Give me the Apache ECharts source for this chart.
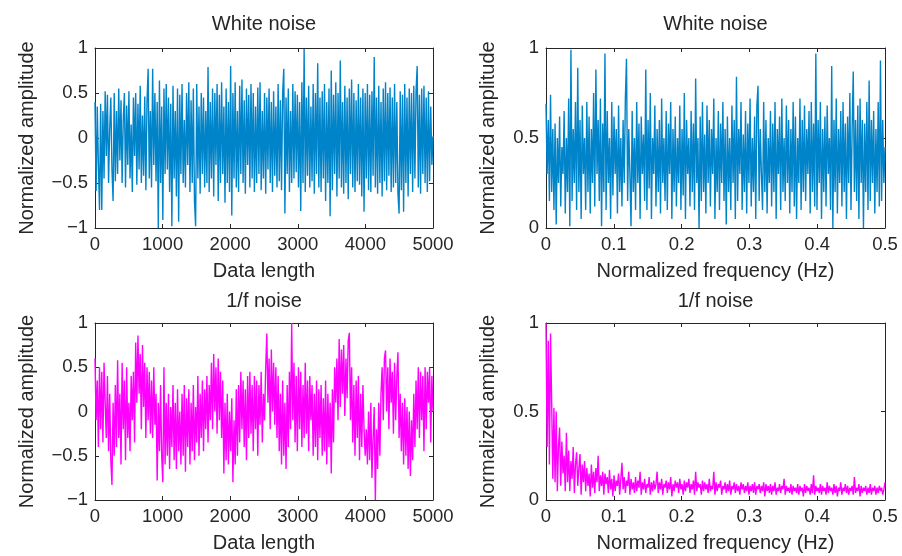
<!DOCTYPE html>
<html>
<head>
<meta charset="utf-8">
<script src="https://cdn.jsdelivr.net/npm/echarts@6/dist/echarts.min.js"></script>
<style>
html,body{margin:0;padding:0;background:#fff;}
#c{width:902px;height:556px;}
</style>
</head>
<body>
<div id="c"></div>
<script>
// Panel titles and axis names
const titles = ['White noise', 'White noise', '1/f noise', '1/f noise'];
const xNames = ['Data length', 'Normalized frequency (Hz)', 'Data length', 'Normalized frequency (Hz)'];
const yName = 'Normalized amplitude';
// Axis ranges / tick steps
const timeAxis = {min: 0, max: 5000, interval: 1000};
const freqAxis = {min: 0, max: 0.5, interval: 0.1};
const symAmp = {min: -1, max: 1, interval: 0.5};
const posAmp = {min: 0, max: 1, interval: 0.5};

// White noise, time domain (evenly spaced over 0..5000)
const whiteTime = [
0.4,-0.59,0.35,-0.3,-0.8,0.38,-0.8,0.3,-0.45,0.52,-0.2,0.48,-0.5,0.1,0.45,-0.35,-0.7,0.5,-0.48,0.3,
-0.4,0.55,-0.25,0.42,-0.5,0.2,0.5,-0.55,0.36,-0.3,0.52,-0.45,0.15,-0.6,0.45,-0.2,0.5,-0.52,0.38,-0.35,
0.58,-0.5,0.25,-0.42,0.46,-0.58,0.4,0.77,-0.45,0.3,-0.55,0.77,-0.3,0.5,-0.48,0.4,-1.0,0.64,-0.5,0.35,
-0.91,0.55,-0.4,0.6,-0.35,0.45,-0.6,0.38,-0.98,0.58,-0.45,0.3,-0.65,0.55,-0.93,0.48,-0.4,0.6,-0.5,0.2,
-0.55,0.5,-0.3,0.62,-0.6,0.42,-0.5,0.55,-0.7,-0.98,0.6,-0.45,0.35,-0.62,0.5,-0.4,0.45,-0.55,0.3,-0.5,
0.79,-0.6,0.4,-0.45,0.55,-0.65,0.5,-0.3,0.6,-0.7,0.48,-0.5,0.62,-0.4,0.35,-0.72,0.55,-0.5,0.4,-0.6,
0.8,-0.86,0.5,-0.45,0.62,-0.55,0.3,-0.6,0.58,-0.4,0.65,-0.5,0.42,-0.62,0.55,-0.3,0.48,-0.55,0.6,-0.45,
0.5,-0.6,0.35,-0.5,0.56,-0.4,0.62,-0.58,0.3,-0.45,0.5,-0.62,0.45,-0.35,0.55,-0.5,0.4,-0.6,0.52,-0.42,
0.35,-0.55,0.6,-0.48,0.42,-0.58,0.5,0.77,-0.84,0.45,-0.4,0.55,-0.6,0.3,-0.5,0.6,-0.45,0.52,-0.38,0.48,
-0.55,0.4,-0.81,0.62,-0.5,0.99,-0.6,0.45,-0.42,0.58,-0.55,0.35,-0.48,0.6,-0.62,0.5,-0.4,0.83,-0.55,0.45,
-0.6,0.52,-0.45,0.6,-0.7,0.4,-0.5,0.55,-0.87,0.75,-0.58,0.48,-0.4,0.62,-0.65,0.5,-0.45,0.86,-0.55,0.4,
-0.62,0.58,-0.5,0.45,-0.68,0.55,-0.4,0.65,-0.55,0.5,-0.6,0.42,-0.48,0.6,-0.52,0.45,-0.65,0.55,-0.82,0.5,
-0.45,0.6,-0.58,0.48,-0.6,0.52,-0.42,0.9,-0.55,0.45,-0.62,0.58,-0.5,0.4,-0.65,0.55,-0.48,0.62,-0.58,0.5,
-0.42,0.56,-0.6,0.45,-0.55,0.6,-0.5,0.4,-0.62,-0.84,0.52,-0.58,0.48,-0.82,0.6,-0.5,0.45,-0.65,0.55,-0.4,
0.5,-0.6,0.58,-0.45,0.52,0.8,-0.55,0.48,-0.62,0.55,-0.4,0.58,-0.5,0.45,-0.6,0.52,-0.48,0.35,-0.3,0.02
];

// White noise, spectrum (evenly spaced over 0..0.5 Hz)
const whiteSpec = [
0.69,0.3,0.6,0.15,0.74,0.2,0.55,0.1,0.58,0.02,0.5,0.25,0.62,0.12,0.45,0.3,0.65,0.08,0.5,0.2,
0.72,0.01,0.99,0.15,0.55,0.25,0.7,0.1,0.89,0.2,0.6,0.05,0.68,0.3,0.5,0.1,0.7,0.2,0.62,0.08,
0.55,0.25,0.75,0.12,0.88,0.3,0.6,0.15,0.72,0.01,0.58,0.2,0.97,0.1,0.65,0.25,0.5,0.05,0.7,0.18,
0.62,0.3,0.55,0.08,0.68,0.2,0.5,0.12,0.6,0.25,0.72,0.94,0.15,0.55,0.3,0.01,0.65,0.2,0.5,0.1,
0.7,0.25,0.58,0.05,0.62,0.3,0.52,0.15,0.88,0.1,0.6,0.22,0.75,0.05,0.5,0.3,0.68,0.12,0.55,0.2,
0.6,0.08,0.72,0.25,0.5,0.15,0.65,0.1,0.58,0.3,0.7,0.05,0.55,0.2,0.62,0.12,0.5,0.25,0.68,0.1,
0.55,0.18,0.75,0.05,0.6,0.3,0.5,0.12,0.65,0.2,0.58,0.1,0.83,0.25,0.5,0.0,0.62,0.15,0.7,0.2,
0.52,0.08,0.68,0.25,0.6,0.12,0.55,0.3,0.72,0.05,0.5,0.2,0.65,0.1,0.58,0.25,0.7,0.15,0.55,0.02,
0.62,0.2,0.5,0.1,0.68,0.25,0.6,0.05,0.84,0.15,0.55,0.3,0.7,0.1,0.52,0.2,0.65,0.08,0.58,0.25,
0.72,0.12,0.5,0.2,0.62,0.05,0.68,0.79,0.15,0.55,0.3,0.1,0.7,0.2,0.6,0.08,0.5,0.25,0.65,0.12,
0.58,0.2,0.7,0.05,0.55,0.3,0.62,0.1,0.72,0.2,0.5,0.15,0.68,0.25,0.6,0.08,0.55,0.2,0.7,0.12,
0.62,0.05,0.5,0.25,0.72,0.1,0.6,0.2,0.68,0.15,0.55,0.3,0.65,0.08,0.7,0.2,0.58,0.12,0.97,0.1,
0.6,0.25,0.7,0.05,0.55,0.2,0.62,0.12,0.68,0.3,0.5,0.1,0.9,0.0,0.6,0.2,0.72,0.08,0.55,0.25,
0.65,0.12,0.7,0.2,0.58,0.05,0.62,0.25,0.75,0.1,0.55,0.87,0.2,0.6,0.15,0.68,0.05,0.72,0.25,0.6,
0.0,0.58,0.2,0.7,0.1,0.82,0.15,0.6,0.25,0.65,0.08,0.55,0.2,0.7,0.12,0.93,0.15,0.6,0.25,0.45
];

// 1/f noise, time domain (evenly spaced over 0..5000)
const pinkTime = [
0.6,-0.1,0.35,-0.4,0.5,-0.2,0.45,-0.35,0.55,0.1,-0.3,0.4,-0.45,0.2,-0.55,-0.83,0.1,-0.5,0.3,-0.4,
0.58,-0.3,0.2,-0.6,0.55,-0.2,0.35,-0.55,0.5,-0.3,0.1,-0.45,0.4,-0.1,0.45,-0.35,0.78,0.1,0.86,0.2,
0.65,-0.2,0.75,0.05,0.55,-0.3,0.5,-0.1,0.45,-0.25,0.35,-0.3,0.5,-0.15,0.2,-0.78,0.1,-0.45,0.3,-0.5,
-0.8,0.5,-0.6,0.1,-0.5,0.2,-0.65,0.05,-0.4,0.3,-0.55,0.1,-0.65,0.25,-0.45,0.0,-0.6,0.2,-0.5,0.3,
-0.68,0.15,-0.4,0.25,-0.6,0.1,-0.45,0.3,-0.55,0.05,-0.35,0.4,-0.5,0.2,-0.3,0.35,-0.45,0.25,-0.2,0.4,
-0.35,0.3,-0.1,0.55,-0.2,0.65,0.0,0.5,-0.25,0.6,-0.1,0.45,-0.3,0.35,-0.7,0.1,-0.55,0.2,-0.6,0.0,
-0.45,0.15,-0.8,-0.1,-0.6,0.25,-0.5,0.3,-0.35,0.45,-0.2,0.35,-0.4,0.25,-0.55,0.4,-0.3,0.45,-0.25,0.3,
-0.45,0.4,-0.2,0.35,-0.5,0.3,-0.15,0.45,-0.35,0.2,-0.1,0.5,0.88,0.1,0.6,-0.2,0.7,0.0,0.55,-0.15,
0.5,-0.3,0.4,-0.45,0.2,-0.6,0.35,-0.5,0.1,-0.65,0.3,-0.4,0.45,-0.2,1.0,-0.1,0.55,-0.35,0.4,-0.45,
0.5,-0.2,0.45,-0.4,0.3,-0.3,0.55,-0.25,0.35,-0.45,0.4,-0.1,0.3,-0.5,0.2,-0.4,0.35,-0.55,0.25,-0.3,
0.3,-0.5,0.15,-0.45,0.35,-0.6,0.2,-0.4,0.1,-0.7,0.25,-0.35,0.5,0.1,0.6,-0.1,0.82,0.05,0.7,0.2,
0.75,-0.05,0.6,0.15,0.8,0.89,-0.1,0.5,-0.35,0.3,-0.5,0.35,-0.3,0.4,-0.55,0.2,-0.4,0.3,-0.2,-0.5,
-0.2,-0.6,0.0,-0.55,0.1,-0.75,-0.3,0.05,-1.0,-0.2,-0.65,0.1,-0.5,0.2,0.5,-0.1,0.6,0.69,0.0,0.5,
-0.2,0.6,0.1,0.45,-0.25,0.55,-0.1,0.4,0.67,-0.3,0.2,-0.45,0.1,-0.6,0.15,-0.5,0.05,-0.65,0.0,-0.73,
-0.1,-0.55,0.2,-0.4,0.35,-0.2,0.5,-0.3,0.45,-0.1,0.4,-0.45,0.5,-0.2,0.45,0.1,0.5,-0.35,0.4,0.0
];

// 1/f noise, spectrum (evenly spaced over 0..0.5 Hz)
const pinkSpec = [
1.0,0.3,0.9,0.2,0.94,0.55,0.12,0.52,0.1,0.5,0.05,0.3,0.41,0.08,0.33,0.15,0.25,0.05,0.38,0.1,
0.28,0.05,0.22,0.12,0.3,0.04,0.2,0.27,0.08,0.18,0.26,0.03,0.2,0.1,0.22,0.05,0.18,0.08,0.15,0.02,
0.2,0.07,0.16,0.04,0.18,0.1,0.25,0.05,0.14,0.08,0.16,0.03,0.15,0.09,0.13,0.04,0.17,0.06,0.12,0.02,
0.14,0.05,0.11,0.08,0.15,0.03,0.12,0.21,0.06,0.13,0.04,0.11,0.08,0.16,0.03,0.12,0.06,0.1,0.04,0.13,
0.05,0.11,0.07,0.16,0.03,0.1,0.06,0.12,0.04,0.09,0.07,0.13,0.03,0.1,0.05,0.11,0.06,0.09,0.16,0.04,
0.1,0.06,0.12,0.03,0.09,0.07,0.11,0.04,0.1,0.06,0.13,0.02,0.09,0.05,0.11,0.07,0.1,0.04,0.12,0.06,
0.09,0.03,0.11,0.05,0.1,0.07,0.12,0.04,0.09,0.06,0.11,0.03,0.16,0.05,0.1,0.07,0.09,0.03,0.11,0.05,
0.1,0.06,0.09,0.04,0.12,0.05,0.08,0.06,0.16,0.03,0.1,0.05,0.09,0.07,0.11,0.03,0.08,0.06,0.1,0.04,
0.09,0.05,0.11,0.03,0.08,0.06,0.1,0.04,0.09,0.05,0.08,0.03,0.1,0.06,0.09,0.04,0.08,0.05,0.1,0.03,
0.08,0.05,0.09,0.04,0.1,0.03,0.08,0.06,0.09,0.04,0.08,0.05,0.1,0.02,0.09,0.05,0.08,0.04,0.09,0.03,
0.08,0.05,0.1,0.03,0.07,0.05,0.09,0.04,0.08,0.06,0.12,0.03,0.08,0.05,0.07,0.04,0.09,0.03,0.08,0.05,
0.07,0.04,0.09,0.03,0.08,0.05,0.07,0.02,0.09,0.04,0.08,0.05,0.07,0.03,0.09,0.04,0.14,0.03,0.08,0.05,
0.07,0.04,0.09,0.03,0.08,0.05,0.07,0.03,0.1,0.04,0.08,0.05,0.07,0.03,0.09,0.04,0.08,0.02,0.07,0.05,
0.1,0.03,0.07,0.05,0.09,0.04,0.08,0.03,0.07,0.05,0.08,0.03,0.13,0.04,0.07,0.05,0.09,0.02,0.08,0.04,
0.07,0.05,0.08,0.03,0.07,0.04,0.09,0.03,0.07,0.05,0.08,0.03,0.07,0.04,0.08,0.05,0.07,0.03,0.06,0.1
];

const BLUE = '#0084C9', MAGENTA = '#FF00FF', INK = '#262626';
const FONT = '"Liberation Sans", Arial, sans-serif';
const TICK_FS = 18.5, NAME_FS = 20;

const grids = [
  {left: 95, top: 48, width: 338, height: 180},
  {left: 546, top: 48, width: 339, height: 180},
  {left: 95, top: 323, width: 338, height: 177},
  {left: 546, top: 323, width: 339, height: 177}
];
const xRanges = [timeAxis, freqAxis, timeAxis, freqAxis];
const yRanges = [symAmp, posAmp, symAmp, posAmp];
const yNameGaps = [58, 48, 58, 48];
const seriesData = [whiteTime, whiteSpec, pinkTime, pinkSpec];
const colors = [BLUE, BLUE, MAGENTA, MAGENTA];

const fmt = v => String(v).replace('-', '\u2212');
const line = {show: true, onZero: false, lineStyle: {color: INK, width: 1}};
const tick = {show: true, inside: true, length: 4, lineStyle: {color: INK, width: 1}};

const xAxis = [], yAxis = [], series = [], title = [];
grids.forEach((g, i) => {
  const xr = xRanges[i], yr = yRanges[i];
  xAxis.push({
    type: 'value', gridIndex: i, position: 'bottom', min: xr.min, max: xr.max, interval: xr.interval,
    axisLine: line, axisTick: tick, splitLine: {show: false},
    axisLabel: {color: INK, fontSize: TICK_FS, fontFamily: FONT, margin: 7, formatter: fmt},
    name: xNames[i], nameLocation: 'middle', nameGap: 33,
    nameTextStyle: {color: INK, fontSize: NAME_FS, fontFamily: FONT}
  });
  xAxis.push({
    type: 'value', gridIndex: i, position: 'top', min: xr.min, max: xr.max, interval: xr.interval,
    axisLine: line, axisTick: tick, splitLine: {show: false}, axisLabel: {show: false}
  });
  yAxis.push({
    type: 'value', gridIndex: i, position: 'left', min: yr.min, max: yr.max, interval: yr.interval,
    axisLine: line, axisTick: tick, splitLine: {show: false},
    axisLabel: {color: INK, fontSize: TICK_FS, fontFamily: FONT, margin: 7, formatter: fmt},
    name: yName, nameLocation: 'middle', nameGap: yNameGaps[i],
    nameTextStyle: {color: INK, fontSize: NAME_FS, fontFamily: FONT}
  });
  yAxis.push({
    type: 'value', gridIndex: i, position: 'right', min: yr.min, max: yr.max, interval: yr.interval,
    axisLine: line, axisTick: tick, splitLine: {show: false}, axisLabel: {show: false}
  });
  const arr = seriesData[i];
  const step = (xr.max - xr.min) / (arr.length - 1);
  series.push({
    type: 'line', xAxisIndex: 2 * i, yAxisIndex: 2 * i,
    data: arr.map((v, k) => [xr.min + k * step, v]),
    showSymbol: false, symbol: 'none',
    lineStyle: {color: colors[i], width: 1.4}, itemStyle: {color: colors[i]},
    clip: true, animation: false, silent: true
  });
  title.push({
    text: titles[i], left: g.left + g.width / 2, top: i < 2 ? 14 : 291, textAlign: 'center', padding: 0,
    textStyle: {color: INK, fontSize: NAME_FS, fontWeight: 'normal', fontFamily: FONT}
  });
});

const chart = echarts.init(document.getElementById('c'), null, {renderer: 'canvas'});
chart.setOption({
  animation: false,
  backgroundColor: '#fff',
  title, grid: grids, xAxis, yAxis, series
});
</script>
</body>
</html>
